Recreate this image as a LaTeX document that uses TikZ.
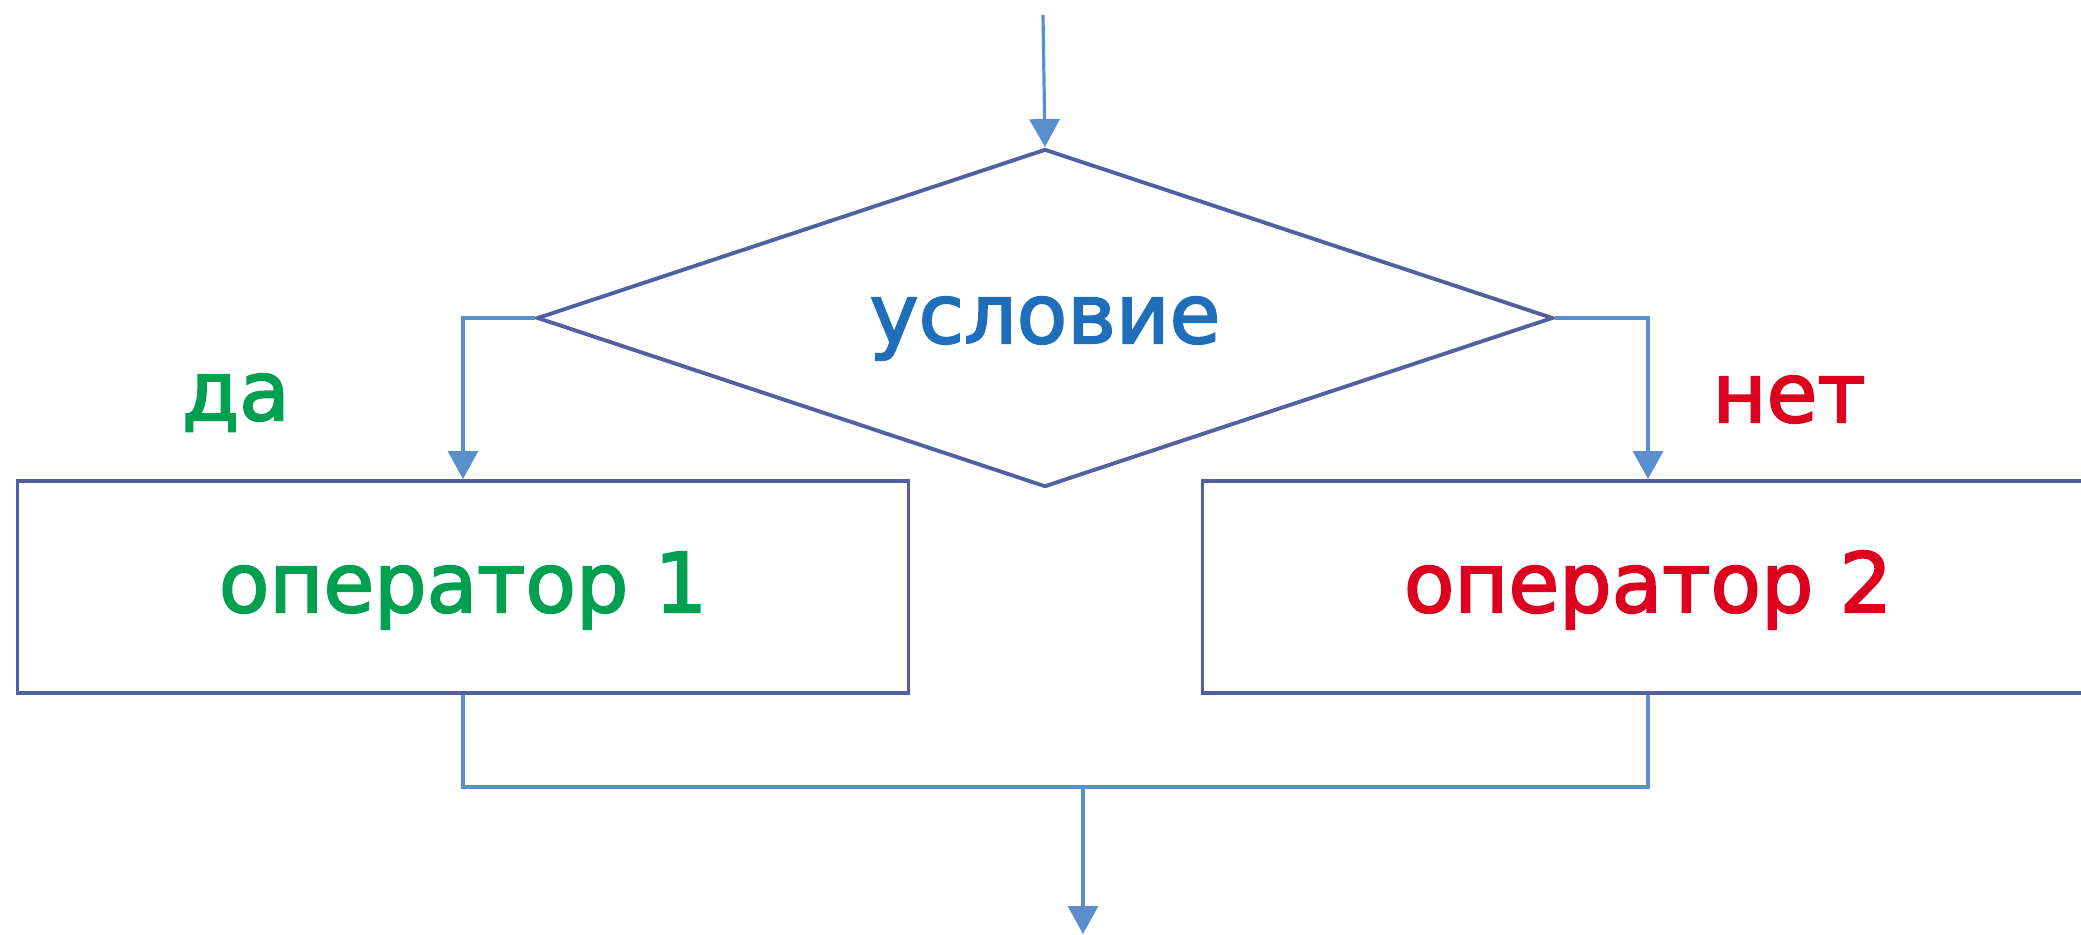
\documentclass[tikz,border=0pt]{standalone}
\usepackage{fontspec}
\setmainfont{DejaVu Sans}
\newfontfamily\diagfont[FakeBold=2.4]{DejaVu Sans}
\usetikzlibrary{shapes.geometric,arrows.meta}
\definecolor{linecol}{RGB}{80,96,160}
\definecolor{flowcol}{RGB}{91,142,205}
\definecolor{yescol}{RGB}{0,160,80}
\definecolor{nocol}{RGB}{220,0,30}
\definecolor{condcol}{RGB}{30,110,185}
\tikzset{
	label text/.style={font=\diagfont\fontsize{23.5}{28}\selectfont},
	block/.style={label text, draw=linecol, line width=1.1pt, rectangle, minimum width=8.91cm, minimum height=2.12cm, text height=0.7cm, text depth=0.2cm},
	decision/.style={label text, draw=linecol, line width=1.1pt, diamond, aspect=3, inner sep=0pt, minimum width=10.16cm, minimum height=3.38cm, text=condcol, text height=0.7cm, text depth=0.2cm},
	flow/.style={draw=flowcol, line width=0.9pt},
	flowarrow/.style={flow, -{Triangle[width=0.3cm,length=0.28cm]}}
}
\begin{document}
\begin{tikzpicture}
	\useasboundingbox (0,0) rectangle (20.81,9.34);
	
	\node[decision] (cond) at (10.45,6.16) {условие};
	\node[block, text=yescol] (op1) at (4.63,3.47) {оператор 1};
	\node[block, text=nocol] (op2) at (16.48,3.47) {оператор 2};
	
	\node[label text, text=yescol, anchor=base] (yes) at (2.36,5.14) {да};
	\node[label text, text=nocol, anchor=base] (no) at (17.89,5.12) {нет};
	
	\coordinate (entry) at (10.43,9.19);
	\coordinate (merge) at (10.83,1.47);
	\coordinate (exit) at (10.83,0);
	
	\draw[flowarrow] (entry) -- (cond.north);
	\draw[flowarrow] (cond.west) -| (op1.north);
	\draw[flowarrow] (cond.east) -| (op2.north);
	\draw[flow] (op1.south) |- (merge) -| (op2.south);
	\draw[flowarrow] (merge) -- (exit);
\end{tikzpicture}
\end{document}
